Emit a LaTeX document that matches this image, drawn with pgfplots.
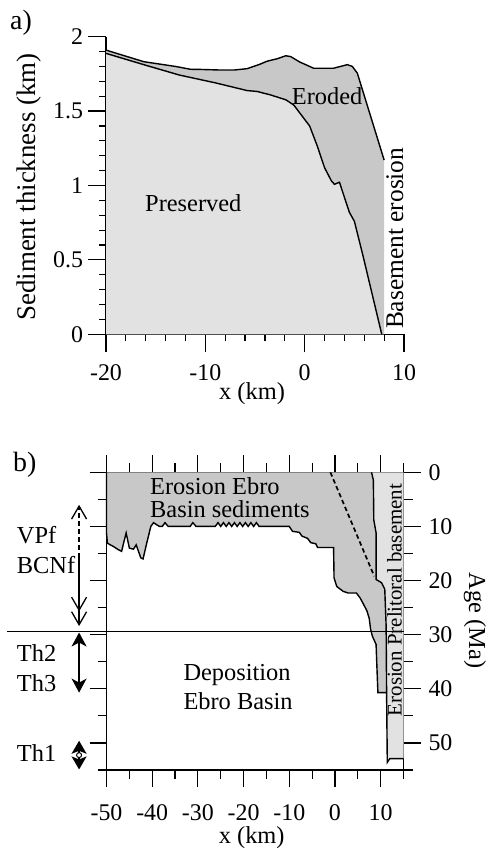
\documentclass[border=0pt]{standalone}
\usepackage{fontspec}
\setmainfont{Liberation Serif}
\usepackage{pgfplots}
\pgfplotsset{compat=1.18}
\usetikzlibrary{arrows.meta}
\definecolor{pres}{RGB}{226,226,226}
\definecolor{ero}{RGB}{200,200,200}
\newcommand\fs{\fontsize{24.5}{29}\selectfont}
\begin{document}
\begin{tikzpicture}
\pgfplotsset{
  mystyle/.style={scale only axis, enlargelimits=false, tick align=outside,
    axis line style={line width=1.2bp}, tick style={line width=1.2bp, black},
    ticklabel style={font=\fontsize{24}{28}\selectfont},
    label style={font=\fs},
    clip=false},
}
% ---------------- Panel a
\begin{axis}[mystyle, at={(106bp,514.7bp)}, anchor=south west,
  width=298bp, height=297.6bp,
  axis lines*=left, axis line style={-},
  xmin=-20, xmax=10, ymin=0, ymax=2,
  xtick={-20,-10,0,10}, xticklabels={-20,-10,0,10},
  ytick={0,0.5,1,1.5,2}, yticklabels={0,0.5,1,1.5,2},
  minor x tick num=4, minor y tick num=4,
  major tick length=18bp, minor tick length=7bp,
  xticklabel style={yshift=-9bp}, yticklabel style={xshift=-1.5bp},
  xlabel={x (km)}, ylabel={Sediment thickness (km)},
  xlabel style={at={(axis description cs:0.49,-0.2006)}, anchor=center},
  ylabel style={at={(axis description cs:-0.258,0.495)}, anchor=center,
    font=\fontsize{27}{32}\selectfont},
]
% preserved
\addplot[fill=pres, draw=none] coordinates {
(-20,0) (-20,1.888) (-16,1.808) (-12.6,1.742) (-9,1.69) (-5.8,1.638) (-4.8,1.632)
(-3.5,1.61) (-1.9,1.576) (-1.1,1.541) (0.5,1.40) (1.3,1.26) (2.0,1.12) (2.7,1.03)
(3.0,1.008) (3.5,1.022) (4.5,0.82) (5.0,0.76) (5.9,0.52) (7.76,0)} --cycle;
% eroded
\addplot[fill=ero, draw=none] coordinates {
(-20,1.91) (-16.2,1.832) (-13,1.80) (-11.5,1.781) (-10.5,1.78) (-8.5,1.776) (-7.1,1.776)
(-5.8,1.785) (-4.5,1.815) (-3.8,1.835) (-2.75,1.852) (-1.9,1.872) (-1.4,1.866)
(-0.5,1.83) (0.9,1.788) (2.9,1.788) (4.3,1.812) (4.8,1.80) (5.3,1.755) (8.0,1.171)
(8.0,0) (7.76,0) (5.9,0.52) (5.0,0.76) (4.5,0.82) (3.5,1.022) (3.0,1.008) (2.7,1.03)
(2.0,1.12) (1.3,1.26) (0.5,1.40) (-1.1,1.541) (-1.9,1.576) (-3.5,1.61) (-4.8,1.632)
(-5.8,1.638) (-9,1.69) (-12.6,1.742) (-16,1.808) (-20,1.888)} --cycle;
% lines
\addplot[black, line width=1.4bp] coordinates {
(-20,1.91) (-16.2,1.832) (-13,1.80) (-11.5,1.781) (-10.5,1.78) (-8.5,1.776) (-7.1,1.776)
(-5.8,1.785) (-4.5,1.815) (-3.8,1.835) (-2.75,1.852) (-1.9,1.872) (-1.4,1.866)
(-0.5,1.83) (0.9,1.788) (2.9,1.788) (4.3,1.812) (4.8,1.80) (5.3,1.755) (8.0,1.171)};
\addplot[black, line width=1.4bp] coordinates {
(-20,1.888) (-16,1.808) (-12.6,1.742) (-9,1.69) (-5.8,1.638) (-4.8,1.632)
(-3.5,1.61) (-1.9,1.576) (-1.1,1.541) (0.5,1.40) (1.3,1.26) (2.0,1.12) (2.7,1.03)
(3.0,1.008) (3.5,1.022) (4.5,0.82) (5.0,0.76) (5.9,0.52) (7.76,0)};
\end{axis}
% ---------------- Panel b
\begin{axis}[mystyle, at={(106.5bp,79bp)}, anchor=south west,
  width=297bp, height=297.7bp,
  xmin=-50, xmax=15, ymin=0, ymax=55, y dir=reverse,
  tick pos=both, yticklabel pos=right,
  xtick={-50,-40,-30,-20,-10,0,10}, xticklabels={-50,-40,-30,-20,-10,0,10},
  minor xtick={-45,-35,-25,-15,-5,5,15},
  ytick={0,10,20,30,40,50}, yticklabels={0,10,20,30,40,50},
  minor ytick={5,15,25,35,45,55},
  major tick length=17bp, minor tick length=9bp,
  xticklabel style={inner sep=0pt, yshift=-17.5bp}, yticklabel style={xshift=4.5bp},
  xlabel={x (km)}, ylabel={Age (Ma)},
  xlabel style={at={(axis description cs:0.489,-0.2265)}, anchor=center, inner sep=0pt},
  ylabel style={at={(axis description cs:1.241,0.5015)}, anchor=center, rotate=180},
]
% light: Prelitoral basement erosion
\addplot[fill=pres, draw=none] coordinates {
(8.0,0) (8.4,1.4) (8.5,8.8) (9.0,11.2) (9.0,19.8) (10.2,20.4) (10.9,21.6) (11.2,28.4)
(11.3,40.7) (11.45,53.6) (12.0,52.9) (15,52.9) (15,0)} --cycle;
% dark: Ebro Basin sediments eroded
\addplot[fill=ero, draw=none] coordinates {
(-50,0) (-50,11.2) (-49.8,13.1) (-48.5,13.7) (-47.4,14.3) (-46.7,14.6) (-45.7,11.2)
(-45.0,14.0) (-44.1,14.2) (-43.5,13.4) (-42.5,15.8) (-42.0,16.0) (-41.2,13.1)
(-40.3,10.0) (-39.7,9.3) (-39.0,9.7) (-38.4,10.0) (-37.8,10.0) (-37.2,9.3) (-36.5,10.0)
(-31.7,10.0) (-31.1,9.3) (-30.4,10.0) (-26.2,10.0)
(-25.6,9.3) (-25.0,10.0) (-24.4,9.3) (-23.8,10.0) (-23.2,9.3) (-22.6,10.0) (-22.0,9.3)
(-21.4,10.0) (-20.8,9.3) (-20.2,10.0) (-19.6,9.3) (-19.0,10.0) (-18.4,9.3) (-17.8,10.0)
(-17.2,9.3) (-16.6,10.0) (-10.0,10.0) (-9.3,10.9) (-7.8,11.1) (-7.2,11.8) (-6.0,12.2)
(-5.3,13.0) (-4.2,13.2) (-3.8,13.9) (-0.3,13.9) (-0.2,19.5) (0.4,21.1) (1.8,22.0)
(2.9,22.3) (4.7,22.3) (5.5,23.2) (6.2,24.3) (7.0,25.6) (7.5,27.0) (7.8,29.0) (8.2,30.3)
(9.0,31.8) (9.2,36.4) (9.4,40.7) (11.3,40.7)
(11.2,28.4) (10.9,21.6) (10.2,20.4) (9.0,19.8) (9.0,11.2) (8.5,8.8) (8.4,1.4) (8.0,0)} --cycle;
% boundary lines
\addplot[black, line width=1.4bp] coordinates {
(-50,0) (-50,11.2) (-49.8,13.1) (-48.5,13.7) (-47.4,14.3) (-46.7,14.6) (-45.7,11.2)
(-45.0,14.0) (-44.1,14.2) (-43.5,13.4) (-42.5,15.8) (-42.0,16.0) (-41.2,13.1)
(-40.3,10.0) (-39.7,9.3) (-39.0,9.7) (-38.4,10.0) (-37.8,10.0) (-37.2,9.3) (-36.5,10.0)
(-31.7,10.0) (-31.1,9.3) (-30.4,10.0) (-26.2,10.0)
(-25.6,9.3) (-25.0,10.0) (-24.4,9.3) (-23.8,10.0) (-23.2,9.3) (-22.6,10.0) (-22.0,9.3)
(-21.4,10.0) (-20.8,9.3) (-20.2,10.0) (-19.6,9.3) (-19.0,10.0) (-18.4,9.3) (-17.8,10.0)
(-17.2,9.3) (-16.6,10.0) (-10.0,10.0) (-9.3,10.9) (-7.8,11.1) (-7.2,11.8) (-6.0,12.2)
(-5.3,13.0) (-4.2,13.2) (-3.8,13.9) (-0.3,13.9) (-0.2,19.5) (0.4,21.1) (1.8,22.0)
(2.9,22.3) (4.7,22.3) (5.5,23.2) (6.2,24.3) (7.0,25.6) (7.5,27.0) (7.8,29.0) (8.2,30.3)
(9.0,31.8) (9.2,36.4) (9.4,40.7) (11.3,40.7)};
\addplot[black, line width=1.4bp] coordinates {
(8.0,0) (8.4,1.4) (8.5,8.8) (9.0,11.2) (9.0,19.8) (10.2,20.4) (10.9,21.6) (11.2,28.4)
(11.3,40.7) (11.45,53.6) (12.0,52.9) (15,52.9)};
% dashed line
\addplot[black, line width=1.7bp, dash pattern=on 4.5bp off 3bp] coordinates {(-1.0,0) (8.6,19.2)};
% horizontal line
\draw[line width=0.9bp] (axis cs:-71.8,29.35) -- (axis cs:15,29.35);
% arrows
\draw[line width=1.3bp, dash pattern=on 5bp off 3bp, -{Straight Barb[length=13bp,width=15bp]}]
  (axis cs:-56,15.8) -- (axis cs:-56,6.0);
\draw[line width=1.3bp, -{Straight Barb[length=13bp,width=15bp]}]
  (axis cs:-56,15.8) -- (axis cs:-56,25.7);
\draw[line width=1.3bp, -{Straight Barb[length=13bp,width=15bp]}]
  (axis cs:-56,25.0) -- (axis cs:-56,28.4);
\draw[line width=1.5bp, {Stealth[length=14bp,width=15bp,inset=4bp]}-{Stealth[length=14bp,width=15bp,inset=4bp]}]
  (axis cs:-56,29.6) -- (axis cs:-56,40.7);
\draw[line width=1.5bp, -{Stealth[length=13bp,width=15bp,inset=3bp]}]
  (axis cs:-56,52.25) -- (axis cs:-56,49.6);
\draw[line width=1.5bp, -{Stealth[length=13bp,width=15bp,inset=3bp]}]
  (axis cs:-56,52.25) -- (axis cs:-56,54.9);
\draw[fill=white, line width=1bp] (axis cs:-56,52.25) circle (2.5bp);
\end{axis}
% ---------------- texts
\node[anchor=base west, inner sep=0, font=\fontsize{28}{32}\selectfont] at (10bp,819.5bp) {a)};
\node[anchor=base west, inner sep=0, font=\fs] at (291.7bp,744bp) {Eroded};
\node[anchor=base west, inner sep=0, font=\fs] at (145bp,637.3bp) {Preserved};
\node[anchor=base, rotate=90, inner sep=0, font=\fontsize{25.5}{30}\selectfont] at (403bp,610.7bp) {Basement erosion};
\node[anchor=base west, inner sep=0, font=\fontsize{28}{32}\selectfont] at (13bp,377.3bp) {b)};
\node[anchor=base west, inner sep=0, font=\fs] at (150bp,354bp) {Erosion Ebro};
\node[anchor=base west, inner sep=0, font=\fs] at (150bp,331.7bp) {Basin sediments};
\node[anchor=base west, inner sep=0, font=\fs] at (183.3bp,168bp) {Deposition};
\node[anchor=base west, inner sep=0, font=\fs] at (183.3bp,139bp) {Ebro Basin};
\node[anchor=base west, inner sep=0, font=\fs] at (16.7bp,305bp) {VPf};
\node[anchor=base west, inner sep=0, font=\fs] at (16.7bp,275.7bp) {BCNf};
\node[anchor=base west, inner sep=0, font=\fs] at (16.7bp,187.3bp) {Th2};
\node[anchor=base west, inner sep=0, font=\fs] at (16.7bp,157.3bp) {Th3};
\node[anchor=base west, inner sep=0, font=\fs] at (16.7bp,87.3bp) {Th1};
\node[anchor=base, rotate=90, inner sep=0, font=\fontsize{21}{25}\selectfont] at (401.7bp,249bp) {Erosion Prelitoral basement};
\pgfresetboundingbox
\path[use as bounding box] (0,0) rectangle (489bp,849bp);
\end{tikzpicture}
\end{document}
